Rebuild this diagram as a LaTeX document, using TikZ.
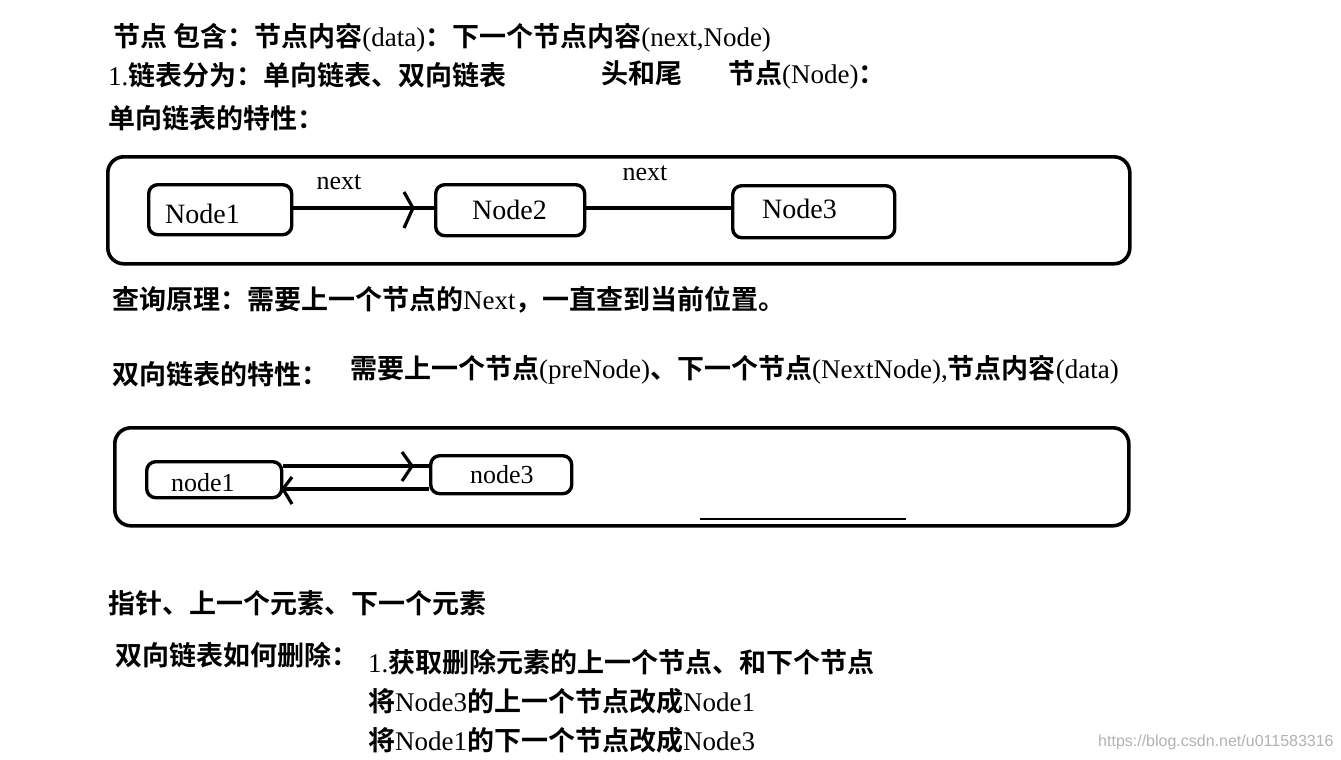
\documentclass[tikz,border=0pt]{standalone}
\usepackage{fontspec}
\setmainfont{Liberation Serif}
\newfontfamily\zh{Noto Sans CJK SC Bold}
\newfontfamily\wmf{Liberation Sans}
\newcommand{\z}[1]{{\zh #1}}
\begin{document}
\begin{tikzpicture}[x=1pt,y=-1pt,
  txt/.style={anchor=west,inner sep=0pt,font=\fontsize{27}{30}\selectfont},
  box/.style={draw,line width=3.6pt,rounded corners=16pt},
  nd/.style={draw,line width=3.4pt,rounded corners=9pt},
  lt/.style={anchor=west,inner sep=0pt,font=\fontsize{28}{30}\selectfont},
  ln/.style={line width=3.2pt}]
\useasboundingbox[fill=white] (0,0) rectangle (1341,760);
\node[txt] (t1) at (113,38) {\z{节点 包含：节点内容}(data)\z{：下一个节点内容}(next,Node)};
\node[txt] (t2) at (108,75) {1.\z{链表分为：单向链表、双向链表}};
\node[txt] (t2b) at (601,73) {\z{头和尾}};
\node[txt] (t2c) at (728,75) {\z{节点}(Node)\z{：}};
\node[txt] (t3) at (108,118) {\z{单向链表的特性：}};
\node[box,minimum width=1022pt,minimum height=107pt,anchor=north west] (b1) at (106,155) {};
\node[nd,minimum width=143pt,minimum height=50pt,anchor=north west] (n1) at (147,183) {};
\node[lt] (n1t) at (165,214) {Node1};
\node[nd,minimum width=149pt,minimum height=51pt,anchor=north west] (n2) at (434,183) {};
\node[lt] (n2t) at (472,210) {Node2};
\node[nd,minimum width=162pt,minimum height=52pt,anchor=north west] (n3) at (731,184) {};
\node[lt] (n3t) at (762,209) {Node3};
\node[font=\fontsize{26}{28}\selectfont,inner sep=0pt] (l1) at (339,182) {next};
\node[font=\fontsize{26}{28}\selectfont,inner sep=0pt] (l2) at (645,173) {next};
\coordinate (a1) at (n1.east |- 0,208);
\coordinate (a2) at (n2.west |- 0,208);
\draw[ln] (a1) -- (a2);
\draw[ln] (404,192) -- (413,208) -- (404,228);
\draw[ln] (n2.east |- 0,208) -- (n3.west |- 0,208);
\node[txt] (t4) at (112,300) {\z{查询原理：需要上一个节点的}Next\z{，一直查到当前位置。}};
\node[txt] (t5) at (112,374) {\z{双向链表的特性：}};
\node[txt] (t5b) at (350,370) {\z{需要上一个节点}(preNode)\z{、下一个节点}(NextNode),\z{节点内容}(data)};
\node[box,minimum width=1014pt,minimum height=98pt,anchor=north west] (b2) at (113,426) {};
\node[nd,minimum width=135pt,minimum height=36pt,anchor=north west] (m1) at (145,460) {};
\node[lt,font=\fontsize{26}{28}\selectfont] (m1t) at (171,483) {node1};
\node[nd,minimum width=141pt,minimum height=38pt,anchor=north west] (m3) at (429,454) {};
\node[lt,font=\fontsize{26}{28}\selectfont] (m3t) at (470,475) {node3};
\draw[ln] (m1.east |- 0,466) -- (m3.west |- 0,466);
\draw[ln] (402,452) -- (412,466) -- (402,481);
\draw[ln] (m3.west |- 0,489) -- (m1.east |- 0,489);
\draw[ln] (292,477) -- (283,489) -- (292,504);
\coordinate (u1) at (700,519); \coordinate (u2) at (906,519);
\draw[line width=2pt] (u1) -- (u2);
\node[txt] (t6) at (108,603) {\z{指针、上一个元素、下一个元素}};
\node[txt] (t7) at (115,655) {\z{双向链表如何删除：}};
\node[txt] (t8) at (368,662) {1.\z{获取删除元素的上一个节点、和下个节点}};
\node[txt] (t9) at (368,701) {\z{将}Node3\z{的上一个节点改成}Node1};
\node[txt] (t10) at (368,740) {\z{将}Node1\z{的下一个节点改成}Node3};
\node[anchor=west,inner sep=0pt,text=gray!60,font=\wmf\fontsize{16}{18}\selectfont] (wm) at (1098,742) {https://blog.csdn.net/u011583316};
\end{tikzpicture}
\end{document}
